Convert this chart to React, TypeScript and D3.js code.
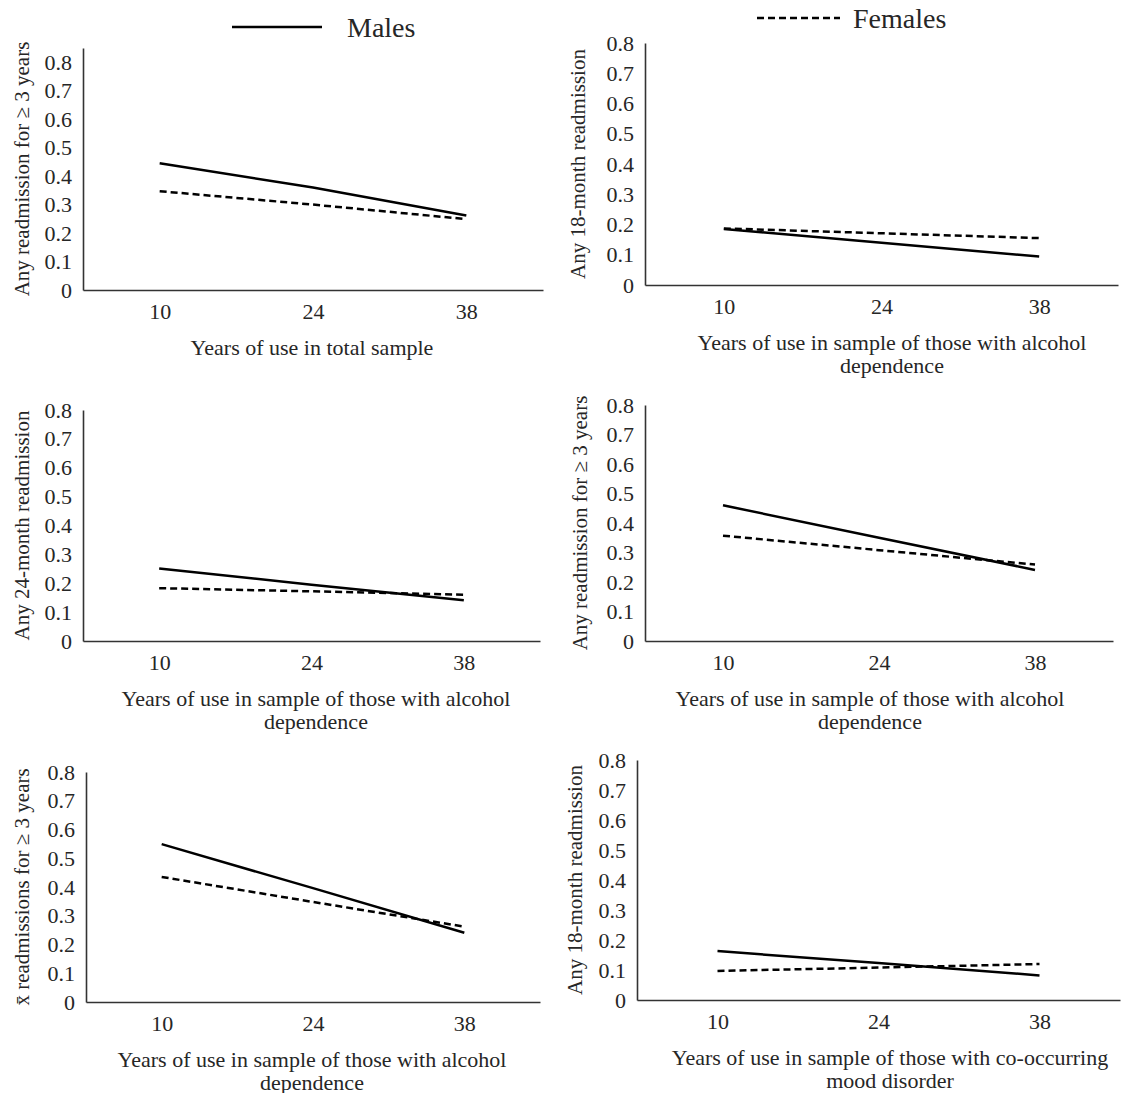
import * as d3 from 'd3';
import React, {useEffect, useRef} from 'react';

// categories on the x axis (years of use)
const years = ['10', '24', '38'];

// y ticks shared by every panel
const yTicks = [0, 0.1, 0.2, 0.3, 0.4, 0.5, 0.6, 0.7, 0.8];

const yTitles = [
    'Any readmission for \u2265 3 years',
    'Any 18-month readmission',
    'Any 24-month readmission',
    'Any readmission for \u2265 3 years',
    'x\u0304 readmissions for \u2265 3 years',
    'Any 18-month readmission',
];

const xTitles = [
    ['Years of use in total sample'],
    ['Years of use in sample of those with alcohol', 'dependence'],
    ['Years of use in sample of those with alcohol', 'dependence'],
    ['Years of use in sample of those with alcohol', 'dependence'],
    ['Years of use in sample of those with alcohol', 'dependence'],
    ['Years of use in sample of those with co-occurring', 'mood disorder'],
];

// values at 10, 24, 38 years
const males = [
    [0.445, 0.36, 0.262],
    [0.185, 0.14, 0.094],
    [0.251, 0.195, 0.141],
    [0.46, 0.35, 0.241],
    [0.549, 0.396, 0.241],
    [0.163, 0.123, 0.082],
];

const females = [
    [0.347, 0.3, 0.249],
    [0.187, 0.171, 0.155],
    [0.183, 0.172, 0.16],
    [0.357, 0.308, 0.259],
    [0.435, 0.348, 0.262],
    [0.097, 0.108, 0.12],
];

const series = [
    {name: 'Males', values: males, dash: null},
    {name: 'Females', values: females, dash: '7,4'},
];

// panel frames
const panels = [
    {x0: 83, x1: 543, top: 48, base: 290, yMax: 0.85, labX: 22, tx: 312},
    {x0: 645, x1: 1118, top: 43, base: 285, yMax: 0.8, labX: 578, tx: 892},
    {x0: 83, x1: 540, top: 410, base: 641, yMax: 0.8, labX: 22, tx: 316},
    {x0: 645, x1: 1113, top: 405, base: 641, yMax: 0.8, labX: 580, tx: 870},
    {x0: 86, x1: 540, top: 772, base: 1002, yMax: 0.8, labX: 22, tx: 312},
    {x0: 637, x1: 1120, top: 760, base: 1000, yMax: 0.8, labX: 575, tx: 890},
];

const FONT = '"Liberation Serif", "Times New Roman", serif';
const TEXT = '#262626';

export default function App() {
    const ref = useRef(null);

    useEffect(() => {
        document.body.style.margin = '0';
        const svg = d3.select(ref.current);
        svg.selectAll('*').remove();

        // legend
        const legend = [
            {x: 232, y: 27, w: 90, tx: 347, size: 28},
            {x: 757, y: 18, w: 83, tx: 853, size: 28},
        ];
        series.forEach((s, i) => {
            const l = legend[i];
            svg.append('line')
                .attr('x1', l.x).attr('x2', l.x + l.w)
                .attr('y1', l.y).attr('y2', l.y)
                .attr('stroke', '#000')
                .attr('stroke-width', 2.5)
                .attr('stroke-dasharray', s.dash);
            svg.append('text')
                .attr('x', l.tx).attr('y', l.y)
                .attr('dy', '0.35em')
                .attr('font-family', FONT)
                .attr('font-size', l.size)
                .attr('fill', TEXT)
                .text(s.name);
        });

        panels.forEach((p, i) => {
            const g = svg.append('g');

            const x = d3.scalePoint()
                .domain(years)
                .range([p.x0, p.x1])
                .padding(0.5);

            const y = d3.scaleLinear()
                .domain([0, p.yMax])
                .range([p.base, p.top]);

            const yAxis = d3.axisLeft(y)
                .tickValues(yTicks)
                .tickFormat((d) => (d === 0 ? '0' : d3.format('.1f')(d)))
                .tickSize(0)
                .tickPadding(11);

            const xAxis = d3.axisBottom(x)
                .tickSize(0)
                .tickPadding(13);

            [
                g.append('g').attr('transform', `translate(${p.x0},0)`).call(yAxis),
                g.append('g').attr('transform', `translate(0,${p.base})`).call(xAxis),
            ].forEach((ax) => {
                ax.select('.domain')
                    .attr('stroke', '#333')
                    .attr('stroke-width', 1.6);
                ax.selectAll('text')
                    .attr('font-family', FONT)
                    .attr('font-size', 22)
                    .attr('fill', TEXT);
            });

            // y title
            g.append('text')
                .attr('transform', `translate(${p.labX},${(p.top + p.base) / 2}) rotate(-90)`)
                .attr('text-anchor', 'middle')
                .attr('dy', '0.35em')
                .attr('font-family', FONT)
                .attr('font-size', 21)
                .attr('fill', TEXT)
                .text(yTitles[i]);

            // x title
            xTitles[i].forEach((t, k) => {
                g.append('text')
                    .attr('x', p.tx)
                    .attr('y', p.base + 57 + k * 23)
                    .attr('text-anchor', 'middle')
                    .attr('dy', '0.35em')
                    .attr('font-family', FONT)
                    .attr('font-size', 22)
                    .attr('fill', TEXT)
                    .text(t);
            });

            const line = d3.line()
                .x((d, j) => x(years[j]))
                .y((d) => y(d));

            series.forEach((s) => {
                g.append('path')
                    .attr('d', line(s.values[i]))
                    .attr('fill', 'none')
                    .attr('stroke', '#000')
                    .attr('stroke-width', 2.5)
                    .attr('stroke-dasharray', s.dash);
            });
        });
    }, []);

    return <svg ref={ref} width={1131} height={1093} style={{display: 'block', background: '#fff'}} />;
}
